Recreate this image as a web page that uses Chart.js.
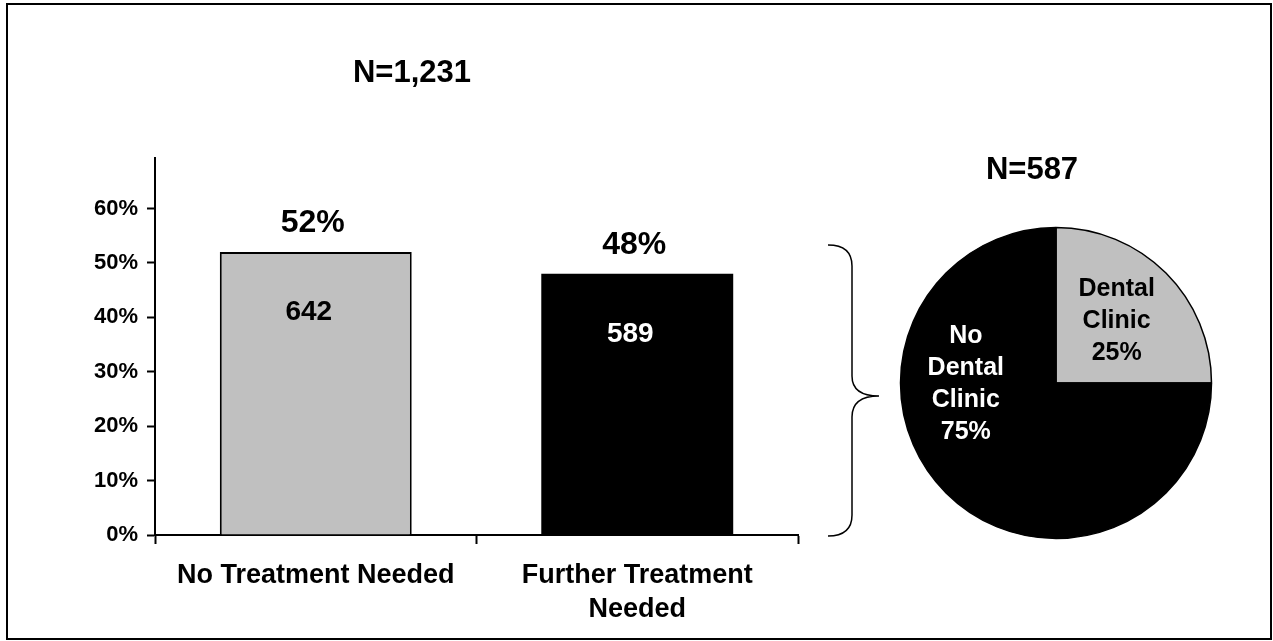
<!DOCTYPE html>
<html>
<head>
<meta charset="utf-8">
<script src="https://cdn.jsdelivr.net/npm/chart.js@4/dist/chart.umd.min.js"></script>
<style>
  body { margin: 0; background: #fff; }
  #wrap { position: relative; width: 1273px; height: 641px; }
  #barChart { position: absolute; left: 0; top: 0; }
  #pieChart { position: absolute; left: 886px; top: 213px; }
</style>
</head>
<body>
<div id="wrap">
  <canvas id="barChart" width="1273" height="641"></canvas>
  <canvas id="pieChart" width="340" height="340"></canvas>
</div>
<script>
// bar chart data
const categories = ['No Treatment Needed', ['Further Treatment', 'Needed']];
const shares = [0.52, 0.48];
const counts = [642, 589];
const barColors = ['#c0c0c0', '#000000'];
const countColors = ['#000000', '#ffffff'];
const yTicks = [0, 0.1, 0.2, 0.3, 0.4, 0.5, 0.6];
const barTotal = 'N=1,231';

// pie chart data
const pieLabels = [['Dental', 'Clinic'], ['No', 'Dental', 'Clinic']];
const pieValues = [25, 75];
const pieColors = ['#c0c0c0', '#000000'];
const pieTextColors = ['#000000', '#ffffff'];
const pieTotal = 'N=587';

const FONT = '"Liberation Sans", Arial, sans-serif';
Chart.defaults.font.family = FONT;
Chart.defaults.color = '#000';

// frame, brace and N labels
const decorations = {
    id: 'decorations',
    afterDraw(chart) {
        const ctx = chart.ctx;
        ctx.save();
        ctx.strokeStyle = '#000';
        ctx.lineWidth = 2;
        ctx.strokeRect(7, 4, 1264, 635);

        // curly brace pointing at the pie
        ctx.lineWidth = 1.5;
        ctx.beginPath();
        ctx.moveTo(828, 245);
        ctx.quadraticCurveTo(852, 245, 852, 266);
        ctx.lineTo(852, 376);
        ctx.quadraticCurveTo(852, 396, 879, 396);
        ctx.quadraticCurveTo(852, 396, 852, 417);
        ctx.lineTo(852, 515);
        ctx.quadraticCurveTo(852, 536, 828, 536);
        ctx.stroke();

        ctx.fillStyle = '#000';
        ctx.textAlign = 'center';
        ctx.textBaseline = 'middle';
        ctx.font = 'bold 31px ' + FONT;
        ctx.fillText(barTotal, 412, 73);
        ctx.fillText(pieTotal, 1032, 170);
        ctx.restore();
    }
};

// percent above and count inside each bar
const barLabels = {
    id: 'barLabels',
    afterDatasetsDraw(chart) {
        const ctx = chart.ctx;
        const meta = chart.getDatasetMeta(0);
        ctx.save();
        ctx.textAlign = 'center';
        ctx.textBaseline = 'middle';
        meta.data.forEach((bar, i) => {
            ctx.font = 'bold 32px ' + FONT;
            ctx.fillStyle = '#000';
            ctx.fillText(Math.round(shares[i] * 100) + '%', bar.x - 3, bar.y - 29);
            ctx.font = 'bold 28px ' + FONT;
            ctx.fillStyle = countColors[i];
            ctx.fillText(counts[i], bar.x - 7, bar.y + 60);
        });
        ctx.restore();
    }
};

new Chart(document.getElementById('barChart'), {
    type: 'bar',
    data: {
        labels: categories,
        datasets: [{
            data: shares,
            backgroundColor: barColors,
            borderColor: '#000',
            borderWidth: [2, 0],
            borderSkipped: 'bottom',
            categoryPercentage: 1,
            barPercentage: 0.597
        }]
    },
    options: {
        responsive: false,
        animation: false,
        devicePixelRatio: 1,
        layout: { padding: { left: 0, top: 158, right: 475, bottom: 0 } },
        plugins: {
            legend: { display: false },
            tooltip: { enabled: false }
        },
        scales: {
            x: {
                grid: { offset: true, drawOnChartArea: false, tickLength: 9, tickWidth: 2, tickColor: '#000' },
                border: { color: '#000', width: 2 },
                ticks: { color: '#000', padding: 14, maxRotation: 0, font: { size: 27, weight: 'bold', lineHeight: 1.27 } },
                afterFit: scale => { scale.height = 106; }
            },
            y: {
                min: 0,
                max: 0.693,
                grid: { drawOnChartArea: false, tickLength: 8, tickWidth: 2, tickColor: '#000' },
                border: { color: '#000', width: 2 },
                ticks: {
                    color: '#000',
                    padding: 9,
                    font: { size: 22, weight: 'bold' },
                    callback: v => Math.round(v * 100) + '%'
                },
                afterBuildTicks: scale => { scale.ticks = yTicks.map(v => ({ value: v })); },
                afterFit: scale => { scale.width = 155; }
            }
        }
    },
    plugins: [barLabels, decorations]
});

// slice labels placed like the original, relative to the pie radius
const labelOffsets = [[0.39, -0.40], [-0.58, 0.01]];
const pieText = {
    id: 'pieText',
    afterDatasetsDraw(chart) {
        const ctx = chart.ctx;
        const meta = chart.getDatasetMeta(0);
        ctx.save();
        ctx.textAlign = 'center';
        ctx.textBaseline = 'middle';
        ctx.font = 'bold 25px ' + FONT;
        meta.data.forEach((arc, i) => {
            const lines = pieLabels[i].concat(pieValues[i] + '%');
            const cx = arc.x + labelOffsets[i][0] * arc.outerRadius;
            const cy = arc.y + labelOffsets[i][1] * arc.outerRadius;
            const lh = 32;
            ctx.fillStyle = pieTextColors[i];
            lines.forEach((t, j) => {
                ctx.fillText(t, cx, cy + (j - (lines.length - 1) / 2) * lh);
            });
        });
        ctx.restore();
    }
};

new Chart(document.getElementById('pieChart'), {
    type: 'pie',
    data: {
        labels: pieLabels.map(l => l.join(' ')),
        datasets: [{
            data: pieValues,
            backgroundColor: pieColors,
            borderColor: '#000',
            borderWidth: 1.5
        }]
    },
    options: {
        responsive: false,
        animation: false,
        devicePixelRatio: 1,
        radius: 155.5,
        layout: { padding: 0 },
        plugins: {
            legend: { display: false },
            tooltip: { enabled: false }
        }
    },
    plugins: [pieText]
});
</script>
</body>
</html>
